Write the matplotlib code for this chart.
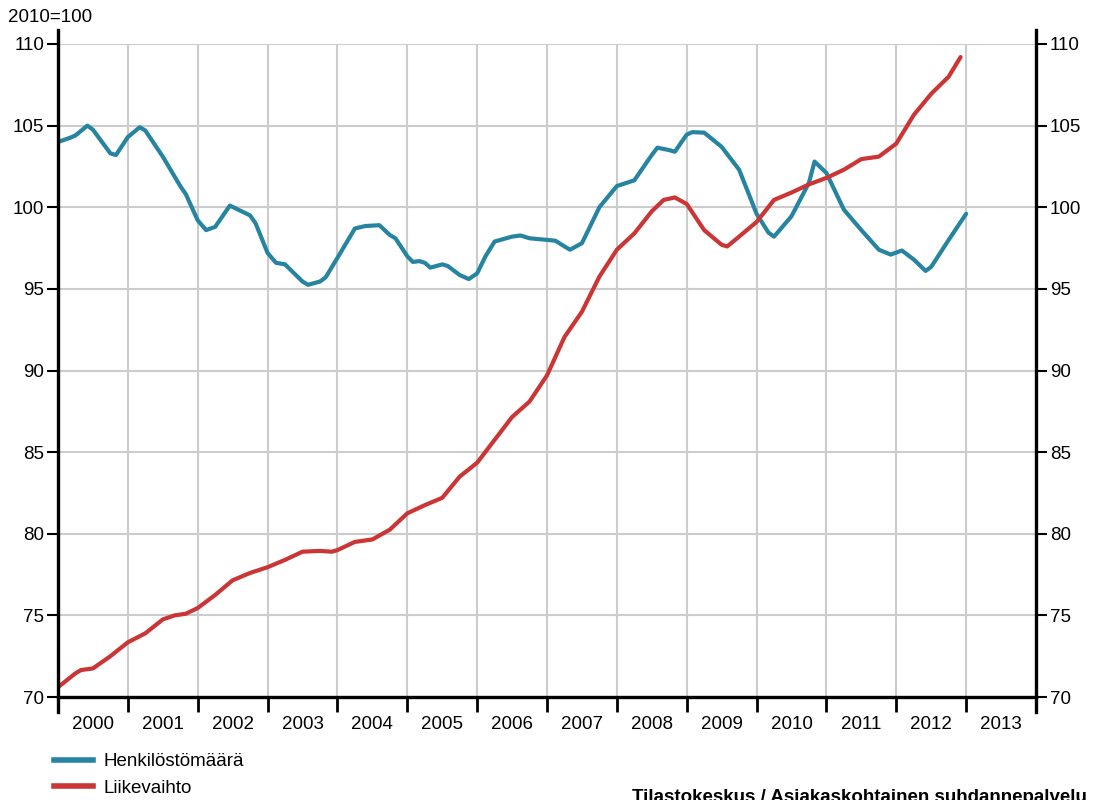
import matplotlib.pyplot as plt
from matplotlib.lines import Line2D

plt.rcParams['font.family'] = ['Liberation Sans', 'DejaVu Sans']

# Henkilöstömäärä (decimal year, index 2010=100)
staff_t = [2000.0, 2000.17, 2000.25, 2000.42, 2000.5, 2000.75, 2000.83, 2001.0,
           2001.17, 2001.25, 2001.5, 2001.75, 2001.83, 2002.0, 2002.12, 2002.25,
           2002.46, 2002.75, 2002.83, 2003.0, 2003.12, 2003.25, 2003.5, 2003.58,
           2003.75, 2003.83, 2004.0, 2004.25, 2004.4, 2004.6, 2004.75, 2004.83,
           2005.0, 2005.08, 2005.17, 2005.25, 2005.33, 2005.5, 2005.58, 2005.75,
           2005.88, 2006.0, 2006.12, 2006.25, 2006.5, 2006.62, 2006.75, 2007.0,
           2007.12, 2007.25, 2007.33, 2007.5, 2007.75, 2008.0, 2008.25, 2008.5,
           2008.58, 2008.75, 2008.83, 2009.0, 2009.08, 2009.25, 2009.5, 2009.75,
           2009.88, 2010.0, 2010.17, 2010.25, 2010.5, 2010.75, 2010.83, 2011.0,
           2011.25, 2011.5, 2011.75, 2011.92, 2012.08, 2012.25, 2012.42, 2012.5,
           2012.75, 2013.0]
staff_v = [104.0, 104.25, 104.4, 105.0, 104.75, 103.3, 103.2, 104.3,
           104.9, 104.7, 103.1, 101.3, 100.8, 99.2, 98.6, 98.8,
           100.1, 99.5, 99.0, 97.2, 96.6, 96.5, 95.45, 95.25,
           95.45, 95.7, 96.9, 98.7, 98.85, 98.9, 98.3, 98.1,
           97.0, 96.65, 96.7, 96.6, 96.3, 96.5, 96.4, 95.85,
           95.6, 95.95, 97.0, 97.9, 98.2, 98.27, 98.1, 98.0,
           97.95, 97.6, 97.4, 97.8, 100.0, 101.3, 101.65, 103.2,
           103.65, 103.5, 103.4, 104.45, 104.6, 104.57, 103.7, 102.3,
           100.9, 99.6, 98.45, 98.2, 99.45, 101.5, 102.8, 102.1,
           99.85, 98.6, 97.4, 97.1, 97.35, 96.8, 96.1, 96.35,
           98.0, 99.6]

# Liikevaihto
sales_t = [2000.0, 2000.25, 2000.33, 2000.5, 2000.75, 2001.0, 2001.25, 2001.5,
           2001.67, 2001.83, 2002.0, 2002.25, 2002.5, 2002.75, 2003.0, 2003.25,
           2003.5, 2003.75, 2003.92, 2004.0, 2004.25, 2004.5, 2004.75, 2005.0,
           2005.25, 2005.5, 2005.75, 2006.0, 2006.25, 2006.5, 2006.75, 2007.0,
           2007.25, 2007.5, 2007.75, 2008.0, 2008.25, 2008.5, 2008.67, 2008.83,
           2009.0, 2009.25, 2009.5, 2009.58, 2009.75, 2010.0, 2010.25, 2010.5,
           2010.75, 2011.0, 2011.25, 2011.5, 2011.75, 2012.0, 2012.25, 2012.5,
           2012.75, 2012.92]
sales_v = [70.6, 71.45, 71.65, 71.75, 72.5, 73.35, 73.9, 74.75,
           75.0, 75.1, 75.45, 76.25, 77.15, 77.6, 77.95, 78.4,
           78.9, 78.95, 78.9, 79.0, 79.5, 79.65, 80.25, 81.25,
           81.75, 82.2, 83.5, 84.35, 85.75, 87.15, 88.1, 89.7,
           92.05, 93.6, 95.75, 97.4, 98.4, 99.75, 100.45, 100.6,
           100.2, 98.6, 97.7, 97.6, 98.2, 99.1, 100.45, 100.9,
           101.4, 101.8, 102.3, 102.95, 103.1, 103.9, 105.65, 106.95,
           108.0, 109.2]

years = list(range(2000, 2014))
labels = ['Henkilöstömäärä', 'Liikevaihto']
colors = ['#2784a1', '#cb3535']
fs = 13.5

fig = plt.figure(figsize=(11.18, 8), dpi=100)
ax = fig.add_axes([58 / 1118, 1 - 697 / 800, (1036 - 58) / 1118, (697 - 44) / 800])

ax.plot(staff_t, staff_v, color=colors[0], lw=3, solid_capstyle='round', solid_joinstyle='round', zorder=3)
ax.plot(sales_t, sales_v, color=colors[1], lw=3, solid_capstyle='round', solid_joinstyle='round', zorder=3)

ax.set_xlim(2000, 2014)
ax.set_ylim(70, 110)
ax.set_yticks(range(70, 111, 5))
ax.set_xticks(range(2000, 2015))
ax.set_xticklabels([])
ax.set_xticks([y + 0.5 for y in years], minor=True)
ax.set_xticklabels([str(y) for y in years], minor=True)

ax.grid(True, which='major', color='#cccccc', lw=1.5)
ax.set_axisbelow(True)

for s in ['top', 'left', 'right']:
    ax.spines[s].set_visible(False)
ax.spines['bottom'].set_linewidth(2.4)

# extended vertical axis lines
for xa in (0, 1):
    ax.add_line(Line2D([xa, xa], [-0.023, 1.021], transform=ax.transAxes,
                       color='black', lw=2.4, clip_on=False, zorder=4))

ax.tick_params(axis='y', which='major', left=True, right=True, labelleft=True,
               labelright=True, direction='out', length=8, width=1.5,
               labelsize=fs, pad=2)
ax.tick_params(axis='x', which='major', direction='out', length=11, width=2)
ax.tick_params(axis='x', which='minor', length=0, labelsize=fs, pad=14)

fig.text(8 / 1118, 1 - 17 / 800, '2010=100', fontsize=fs, va='center', ha='left')

handles = [Line2D([], [], color=c, lw=4) for c in colors]
fig.legend(handles, labels, loc='upper left', bbox_to_anchor=(54 / 1118, 1 - 753 / 800),
           frameon=False, fontsize=fs, handlelength=2.1, handletextpad=0.55,
           labelspacing=0.5, borderaxespad=0, borderpad=0)

fig.text(632 / 1118, 1 - 789 / 800, 'Tilastokeskus / Asiakaskohtainen suhdannepalvelu',
         fontsize=fs, fontweight='bold', va='top', ha='left')

fig.savefig('out.png', dpi=100)
